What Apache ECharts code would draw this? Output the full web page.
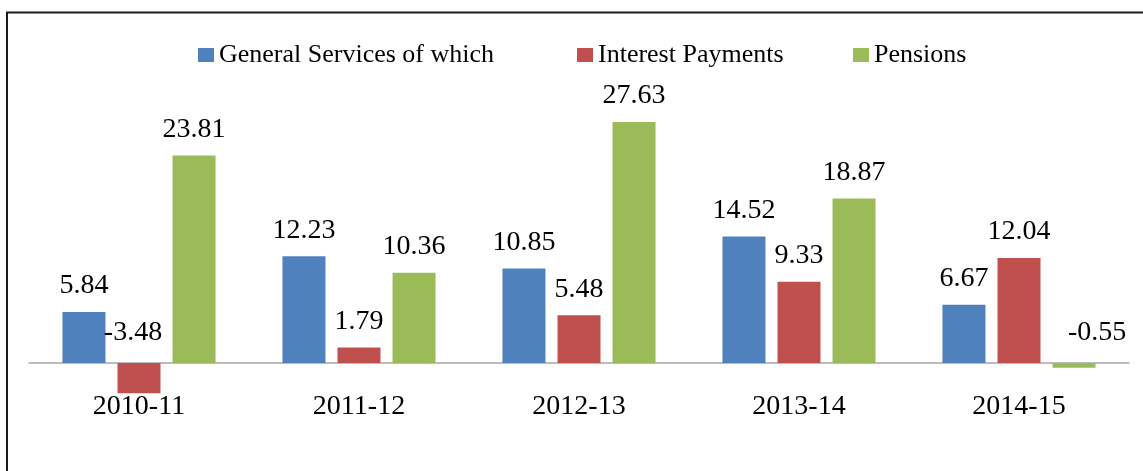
<!DOCTYPE html>
<html>
<head>
<meta charset="utf-8">
<script src="https://cdn.jsdelivr.net/npm/echarts@6/dist/echarts.min.js"></script>
<style>
html,body{margin:0;padding:0;background:#fff;}
#chart{width:1143px;height:471px;}
</style>
</head>
<body>
<div id="chart"></div>
<script>
const categories = ['2010-11', '2011-12', '2012-13', '2013-14', '2014-15'];
const seriesNames = ['General Services of which', 'Interest Payments', 'Pensions'];
const generalServices = [5.84, 12.23, 10.85, 14.52, 6.67];
const interestPayments = [-3.48, 1.79, 5.48, 9.33, 12.04];
const pensions = [23.81, 10.36, 27.63, 18.87, -0.55];

const colors = ['#4F81BD', '#C0504D', '#9BBB59'];
const FONT = '"Liberation Serif", "Times New Roman", serif';

// manual nudges for the labels of negative bars (series index -> category index -> offset)
const negLabelNudge = { 1: { 0: [-6, -4] }, 2: { 4: [23, -4] } };

function buildData(values, si) {
  return values.map((v, ci) => {
    const nudge = negLabelNudge[si] && negLabelNudge[si][ci];
    if (nudge) {
      return { value: v, label: { position: 'top', offset: nudge } };
    }
    return v;
  });
}

const allValues = [generalServices, interestPayments, pensions];

const chart = echarts.init(document.getElementById('chart'), null, { renderer: 'canvas' });

const legendLefts = [193, 572, 848];

chart.setOption({
  animation: false,
  backgroundColor: '#ffffff',
  graphic: [{
    type: 'rect',
    shape: { x: 7, y: 12.5, width: 1140, height: 480 },
    style: { fill: 'none', stroke: '#1a1a1a', lineWidth: 2 },
    silent: true
  }],
  legend: seriesNames.map((n, i) => ({
    data: [n],
    left: legendLefts[i],
    top: 37,
    icon: 'rect',
    itemWidth: 16,
    itemHeight: 14,
    textStyle: { fontFamily: FONT, fontSize: 26, color: '#000' }
  })),
  grid: { left: 29, right: 14, top: 101.4, bottom: 64.4, containLabel: false },
  xAxis: {
    type: 'category',
    data: categories,
    axisLine: { show: true, lineStyle: { color: '#a6a6a6', width: 1.5 } },
    axisTick: { show: false },
    axisLabel: { fontFamily: FONT, fontSize: 28, color: '#000', margin: -14 }
  },
  yAxis: {
    type: 'value',
    min: -5,
    max: 30,
    show: false,
    splitLine: { show: false }
  },
  series: seriesNames.map((n, si) => ({
    name: n,
    type: 'bar',
    data: buildData(allValues[si], si),
    barWidth: 43,
    barGap: '28%',
    itemStyle: { color: colors[si] },
    label: {
      show: true,
      position: 'top',
      distance: 12,
      fontFamily: FONT,
      fontSize: 28,
      color: '#000',
      formatter: p => p.value.toFixed(2)
    }
  }))
});
</script>
</body>
</html>
